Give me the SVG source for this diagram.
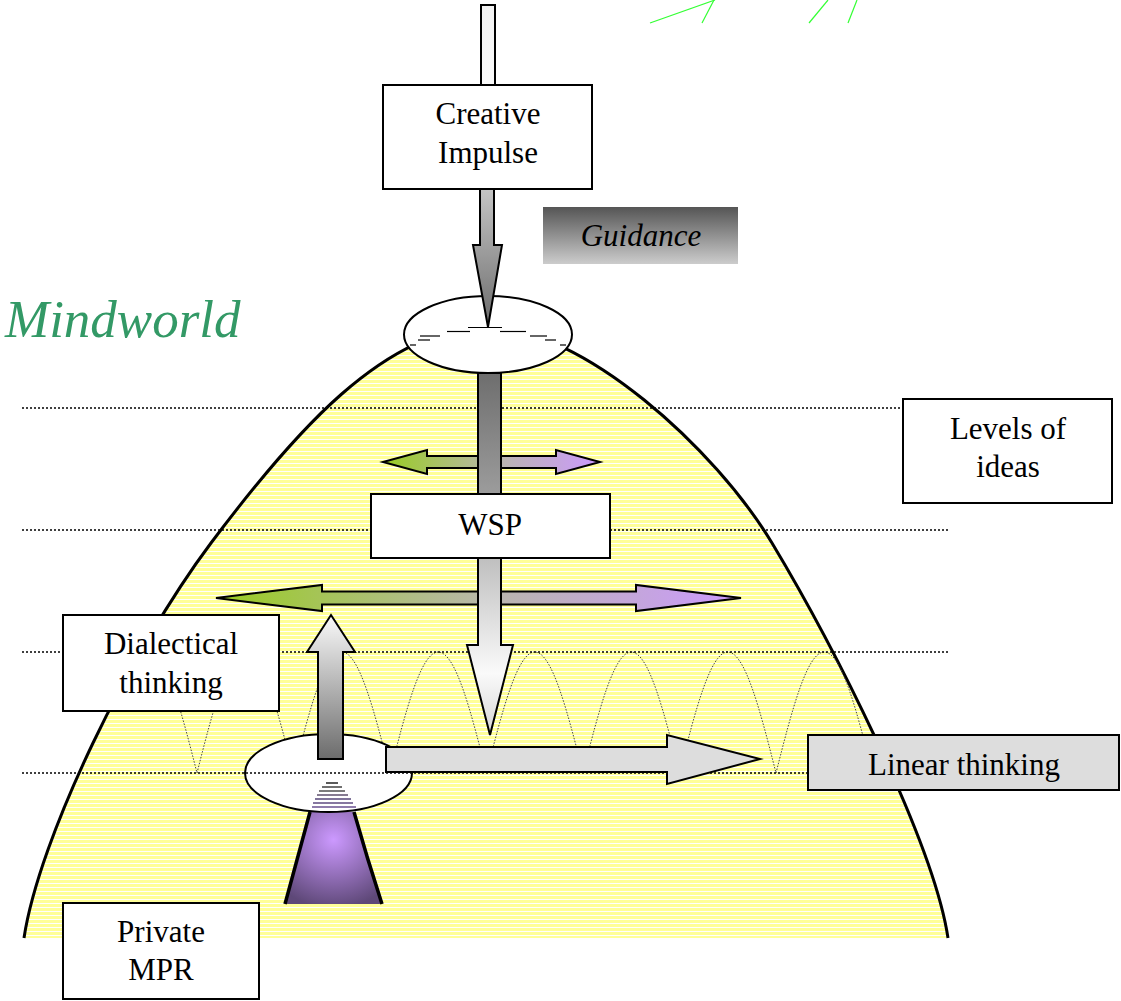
<svg xmlns="http://www.w3.org/2000/svg" xmlns:xlink="http://www.w3.org/1999/xlink" width="1121" height="1001" viewBox="0 0 1121 1001">
<style>
.box{fill:#ffffff;stroke:#000;stroke-width:2}
.lbl{font-family:'Liberation Serif','Times New Roman',Tinos,'Noto Serif','Nimbus Roman','FreeSerif','DejaVu Serif',serif;font-size:31px;fill:#000;text-anchor:middle}
.mw{font-family:'Liberation Serif','Times New Roman',Tinos,'Noto Serif','Nimbus Roman','FreeSerif','DejaVu Serif',serif;font-style:italic;font-size:53px;fill:#339966}
.dot{stroke:#000;stroke-width:1.3;stroke-dasharray:2 2;fill:none}
.arch{stroke:#444;stroke-width:1;stroke-dasharray:1.5 1.5;fill:none}
.arr{stroke:#000;stroke-width:2;stroke-linejoin:miter}
.grn{stroke:#33ff33;stroke-width:1.2;fill:none}
</style>
<defs>
<pattern id="stripes" patternUnits="userSpaceOnUse" width="20" height="4">
<rect width="20" height="4" fill="#ffff99"/>
<rect y="3" width="20" height="1" fill="#ffffff"/>
</pattern>
<path id="hillPath" d="M24 938 C39 838 130 651 211 543 C292 435 385 327 487 327 C582 327 715.5 449 772 543 C828.5 637 933 838 948 938"/>
<clipPath id="hillClip"><path d="M24 938 C39 838 130 651 211 543 C292 435 385 327 487 327 C582 327 715.5 449 772 543 C828.5 637 933 838 948 938 Z"/></clipPath>
<clipPath id="xClip"><rect x="170" y="600" width="800" height="200"/></clipPath>
<path id="arch" d="M0 773 C15.7 711 30.9 652 48.25 652 C65.6 652 80.8 711 96.5 773"/>
<linearGradient id="gStem" x1="0" y1="0" x2="0" y2="1"><stop offset="0" stop-color="#f2f2f2"/><stop offset="1" stop-color="#fafafa"/></linearGradient>
<linearGradient id="gDown1" gradientUnits="userSpaceOnUse" x1="0" y1="189" x2="0" y2="327"><stop offset="0" stop-color="#c4c4c4"/><stop offset="1" stop-color="#6c6c6c"/></linearGradient>
<linearGradient id="gShaft" gradientUnits="userSpaceOnUse" x1="0" y1="373" x2="0" y2="494"><stop offset="0" stop-color="#6e6e6e"/><stop offset="1" stop-color="#9c9c9c"/></linearGradient>
<linearGradient id="gDown2" gradientUnits="userSpaceOnUse" x1="0" y1="558" x2="0" y2="735"><stop offset="0" stop-color="#bfbfbf"/><stop offset="0.65" stop-color="#fafafa"/><stop offset="1" stop-color="#d6d6d6"/></linearGradient>
<linearGradient id="gUp" gradientUnits="userSpaceOnUse" x1="0" y1="615" x2="0" y2="759"><stop offset="0" stop-color="#fafafa"/><stop offset="1" stop-color="#6c6c6c"/></linearGradient>
<linearGradient id="gGP" x1="0" y1="0" x2="1" y2="0"><stop offset="0" stop-color="#99cc22"/><stop offset="0.5" stop-color="#b8b8a8"/><stop offset="1" stop-color="#cc99ff"/></linearGradient>
<linearGradient id="gGuid" x1="0" y1="0" x2="0" y2="1"><stop offset="0" stop-color="#555555"/><stop offset="1" stop-color="#cccccc"/></linearGradient>
<radialGradient id="gCone" cx="0.5" cy="0.3" r="0.75"><stop offset="0" stop-color="#cc99ff"/><stop offset="1" stop-color="#5e4878"/></radialGradient>
</defs>

<g id="decor">
<line class="grn" x1="650" y1="23" x2="715" y2="0"/>
<line class="grn" x1="702" y1="23" x2="714" y2="0"/>
<line class="grn" x1="809" y1="23" x2="828" y2="0"/>
<line class="grn" x1="848" y1="23" x2="857" y2="0"/>
</g>

<g id="mindworld-hill">
<path d="M24 938 C39 838 130 651 211 543 C292 435 385 327 487 327 C582 327 715.5 449 772 543 C828.5 637 933 838 948 938 Z" fill="url(#stripes)"/>
<use xlink:href="#hillPath" href="#hillPath" fill="none" stroke="#000" stroke-width="3"/>
</g>

<g id="arches" clip-path="url(#hillClip)">
<g clip-path="url(#xClip)">
<use xlink:href="#arch" href="#arch" x="100.5" class="arch"/>
<use xlink:href="#arch" href="#arch" x="197" class="arch"/>
<use xlink:href="#arch" href="#arch" x="293.5" class="arch"/>
<use xlink:href="#arch" href="#arch" x="390" class="arch"/>
<use xlink:href="#arch" href="#arch" x="486.5" class="arch"/>
<use xlink:href="#arch" href="#arch" x="583" class="arch"/>
<use xlink:href="#arch" href="#arch" x="679.5" class="arch"/>
<use xlink:href="#arch" href="#arch" x="776" class="arch"/>
</g>
</g>

<g id="top-ellipse">
<ellipse cx="488" cy="334.5" rx="84" ry="38.5" fill="#fff" stroke="#000" stroke-width="2"/>
<g stroke="#000" stroke-width="1.2">
<line x1="468" y1="327.5" x2="502" y2="327.5"/>
<line x1="447" y1="331.5" x2="470" y2="331.5"/><line x1="500" y1="331.5" x2="526" y2="331.5"/>
<line x1="420" y1="336" x2="440" y2="336"/><line x1="530" y1="336" x2="547" y2="336"/>
<line x1="418" y1="340" x2="430" y2="340"/><line x1="545" y1="340" x2="556" y2="340"/>
<line x1="410" y1="345" x2="416" y2="345"/><line x1="560" y1="345" x2="566" y2="345"/>
</g>
</g>

<g id="bottom-ellipse">
<path d="M310 812 L285 904 L382 904 Q367 858 354 812 Z" fill="url(#gCone)"/>
<line x1="310" y1="812" x2="285" y2="904" stroke="#000" stroke-width="3.5"/>
<path d="M354 812 Q367 858 382 904" fill="none" stroke="#000" stroke-width="3.5"/>
<ellipse cx="328.5" cy="773" rx="83.5" ry="39" fill="#fff" stroke="#000" stroke-width="2"/>
<g stroke-width="1.3">
<line x1="326" y1="783" x2="338" y2="783" stroke="#000"/>
<line x1="322" y1="787" x2="342" y2="787" stroke="#222"/>
<line x1="319" y1="791" x2="345" y2="791" stroke="#333"/>
<line x1="317" y1="795" x2="348" y2="795" stroke="#443355"/>
<line x1="315" y1="799" x2="351" y2="799" stroke="#554477"/>
<line x1="313" y1="803" x2="353" y2="803" stroke="#5e4a80"/>
<line x1="312" y1="807" x2="356" y2="807" stroke="#6a5090"/>
</g>
</g>

<g id="level-lines">
<line class="dot" x1="22" y1="408" x2="903" y2="408"/>
<line class="dot" x1="22" y1="530" x2="948" y2="530"/>
<line class="dot" x1="22" y1="652" x2="948" y2="652"/>
<line class="dot" x1="22" y1="773" x2="808" y2="773"/>
</g>

<g id="connectors">
<polygon class="arr" fill="url(#gGP)" points="383,462 427,450 427,456 556,456 556,450 600,462 556,474 556,468 427,468 427,474"/>
<polygon class="arr" fill="url(#gGP)" points="216,598 322,585 322,591.5 636,591.5 636,585 741,598 636,611 636,604.5 322,604.5 322,611"/>
<rect class="arr" x="478" y="373" width="23" height="121" fill="url(#gShaft)"/>
<polygon class="arr" fill="url(#gDown2)" points="478,558 501,558 501,645 513,645 490,735 467,645 478,645"/>
<rect class="arr" x="481" y="5" width="14" height="80" fill="url(#gStem)"/>
<polygon class="arr" fill="url(#gDown1)" stroke-width="1.5" points="480,189 494,189 494,245 502,245 488,327 473,245 480,245"/>
<polygon class="arr" fill="url(#gUp)" points="318,759 318,652 307,652 331,615 355,652 343,652 343,759"/>
<polygon class="arr" fill="#dddddd" points="386,747 667,747 667,735 760,759 667,784 667,772 386,772"/>
</g>

<g id="creative-impulse">
<rect class="box" x="383" y="85" width="209" height="104"/>
<text class="lbl" x="488" y="124">Creative</text>
<text class="lbl" x="488" y="163">Impulse</text>
</g>

<g id="guidance">
<rect x="543" y="207" width="195" height="57" fill="url(#gGuid)"/>
<text class="lbl" x="641" y="246" font-style="italic">Guidance</text>
</g>

<g id="mindworld-label">
<text class="mw" x="5" y="337">Mindworld</text>
</g>

<g id="levels-of-ideas">
<rect class="box" x="903" y="399" width="209" height="104"/>
<text class="lbl" x="1008" y="439">Levels of</text>
<text class="lbl" x="1008" y="477">ideas</text>
</g>

<g id="wsp">
<rect class="box" x="371" y="494" width="239" height="64"/>
<text class="lbl" x="490" y="535">WSP</text>
</g>

<g id="dialectical-thinking">
<rect class="box" x="63" y="615" width="216" height="96"/>
<text class="lbl" x="171" y="654">Dialectical</text>
<text class="lbl" x="171" y="693">thinking</text>
</g>

<g id="linear-thinking">
<rect x="808" y="735" width="311" height="55" fill="#dddddd" stroke="#000" stroke-width="2"/>
<text class="lbl" x="964" y="775">Linear thinking</text>
</g>

<g id="private-mpr">
<rect class="box" x="63" y="903" width="196" height="96"/>
<text class="lbl" x="161" y="942">Private</text>
<text class="lbl" x="161" y="980">MPR</text>
</g>
</svg>
